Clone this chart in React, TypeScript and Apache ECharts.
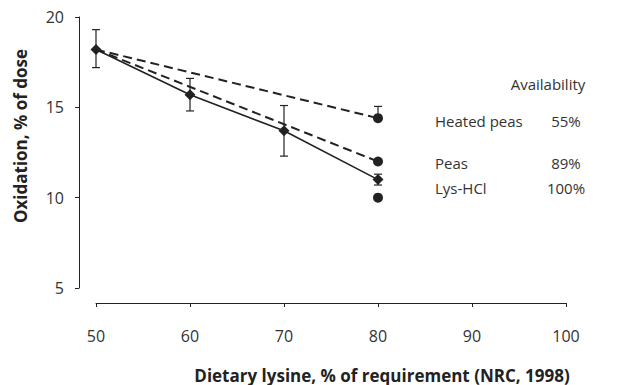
import React, { useEffect, useRef } from "react";
import * as echarts from "echarts";

const xLevels = [50, 60, 70, 80];
const lysHcl = [18.2, 15.7, 13.7, 11.0];
const lysErrLow = [17.2, 14.8, 12.3, 10.7];
const lysErrHigh = [19.3, 16.6, 15.1, 11.3];
const peasX = [50, 80];
const peas = [18.2, 12.0];
const heatedPeas = [18.2, 14.4];
const heatedErrLow = [14.4];
const heatedErrHigh = [15.05];
const heatedErrX = [80];
const lysObservedX = [80];
const lysObserved = [10.0];
const legendNames = ["Heated peas", "Peas", "Lys-HCl"];
const availability = ["55%", "89%", "100%"];

const FONT = "'Open Sans', 'Noto Sans', sans-serif";
const INK = "#222";
const TEXT = "#333";

export default function App() {
  const ref = useRef<HTMLDivElement>(null);
  useEffect(() => {
    if (!ref.current) return;
    const chart = echarts.init(ref.current, undefined, { renderer: "svg" });

    const errData = [
      ...xLevels.map((x, i) => [x, lysErrLow[i], lysErrHigh[i]]),
      ...heatedErrX.map((x, i) => [x, heatedErrLow[i], heatedErrHigh[i]]),
    ];
    const legendY = [121, 163, 188];
    const dashedData = (ys: number[]) =>
      peasX.map((x, i) => ({ value: [x, ys[i]], symbol: i === 0 ? "none" : "circle" }));

    chart.setOption({
      animation: false,
      grid: { left: 96, right: 51, top: 17, bottom: 97 },
      xAxis: {
        type: "value",
        min: 50,
        max: 100,
        interval: 10,
        offset: 15,
        axisLine: { show: true, lineStyle: { color: INK, width: 1 } },
        axisTick: { show: true, length: 4, lineStyle: { color: INK } },
        splitLine: { show: false },
        axisLabel: { margin: 25, fontSize: 16, color: TEXT, fontFamily: FONT },
      },
      yAxis: {
        type: "value",
        min: 5,
        max: 20,
        interval: 5,
        offset: 17,
        axisLine: { show: true, lineStyle: { color: INK, width: 1 } },
        axisTick: { show: true, length: 4, lineStyle: { color: INK } },
        splitLine: { show: false },
        axisLabel: { margin: 15, fontSize: 16, color: TEXT, fontFamily: FONT },
      },
      graphic: [
        {
          type: "text",
          x: 20,
          y: 136,
          rotation: Math.PI / 2,
          style: {
            text: "Oxidation, % of dose",
            fontSize: 17,
            fontWeight: "bold",
            fontFamily: FONT,
            fill: INK,
            align: "center",
            verticalAlign: "middle",
          },
        },
        {
          type: "text",
          x: 382,
          y: 375,
          style: {
            text: "Dietary lysine, % of requirement (NRC, 1998)",
            fontSize: 17,
            fontWeight: "bold",
            fontFamily: FONT,
            fill: INK,
            align: "center",
            verticalAlign: "middle",
          },
        },
        {
          type: "text",
          x: 548,
          y: 84,
          style: {
            text: "Availability",
            fontSize: 15,
            fontFamily: FONT,
            fill: TEXT,
            align: "center",
            verticalAlign: "middle",
          },
        },
        ...legendNames.map((n, i) => ({
          type: "text",
          x: 435,
          y: legendY[i],
          style: {
            text: n,
            fontSize: 15,
            fontFamily: FONT,
            fill: TEXT,
            align: "left",
            verticalAlign: "middle",
          },
        })),
        ...availability.map((n, i) => ({
          type: "text",
          x: 566,
          y: legendY[i],
          style: {
            text: n,
            fontSize: 15,
            fontFamily: FONT,
            fill: TEXT,
            align: "center",
            verticalAlign: "middle",
          },
        })),
      ],
      series: [
        {
          type: "line",
          name: "Heated peas",
          data: dashedData(heatedPeas),
          symbolSize: 10,
          showSymbol: true,
          lineStyle: { color: INK, width: 2, type: [9, 5] },
          itemStyle: { color: INK },
          z: 3,
        },
        {
          type: "line",
          name: "Peas",
          data: dashedData(peas),
          symbolSize: 10,
          showSymbol: true,
          lineStyle: { color: INK, width: 2, type: [9, 5] },
          itemStyle: { color: INK },
          z: 3,
        },
        {
          type: "line",
          name: "Lys-HCl",
          data: xLevels.map((x, i) => [x, lysHcl[i]]),
          symbol: "diamond",
          symbolSize: 11,
          lineStyle: { color: INK, width: 1.6 },
          itemStyle: { color: INK },
          z: 4,
        },
        {
          type: "scatter",
          name: "Lys-HCl observed",
          data: lysObservedX.map((x, i) => [x, lysObserved[i]]),
          symbol: "circle",
          symbolSize: 10,
          itemStyle: { color: INK, opacity: 1 },
        },
        {
          type: "custom",
          name: "error",
          data: errData,
          z: 5,
          renderItem: (params: any, api: any) => {
            const x = api.value(0);
            const lo = api.coord([x, api.value(1)]);
            const hi = api.coord([x, api.value(2)]);
            const cap = 4;
            const style = { stroke: INK, lineWidth: 1.2 };
            return {
              type: "group",
              children: [
                { type: "line", shape: { x1: lo[0], y1: lo[1], x2: hi[0], y2: hi[1] }, style },
                { type: "line", shape: { x1: lo[0] - cap, y1: lo[1], x2: lo[0] + cap, y2: lo[1] }, style },
                { type: "line", shape: { x1: hi[0] - cap, y1: hi[1], x2: hi[0] + cap, y2: hi[1] }, style },
              ],
            };
          },
        },
      ],
    });
    return () => chart.dispose();
  }, []);
  return <div ref={ref} style={{ width: 617, height: 385, position: "absolute", left: 0, top: 0, background: "#fff" }} />;
}
